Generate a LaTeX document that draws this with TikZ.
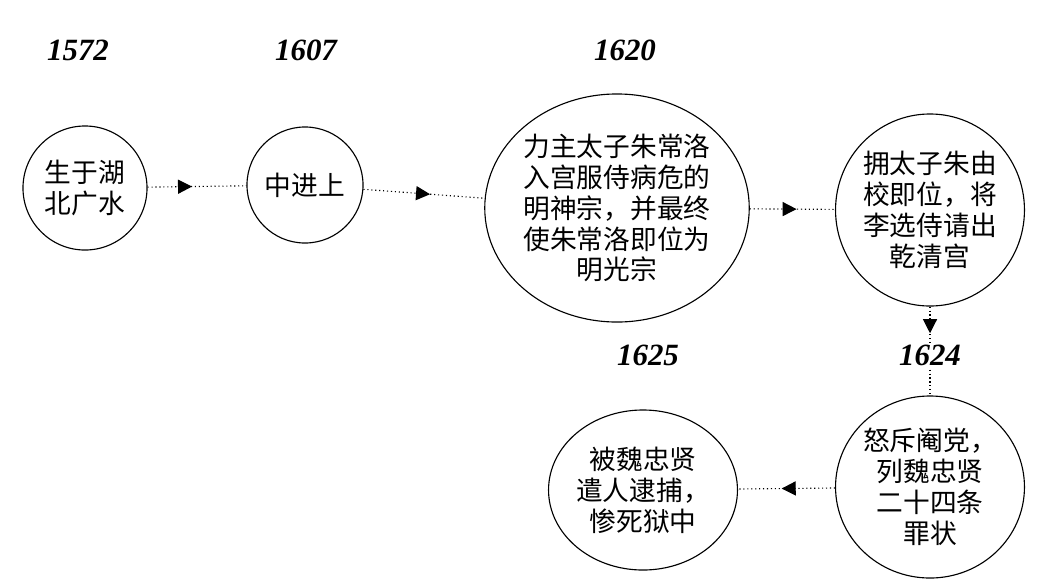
\documentclass[tikz,border=0pt]{standalone}
\usepackage{fontspec}
\setmainfont{Liberation Serif}
\newfontfamily\cjk{Noto Sans CJK SC}
\usetikzlibrary{arrows.meta,decorations.markings,shapes.geometric}

\tikzset{
	event/.style={draw,thick,ellipse,inner sep=0pt,align=center,font=\cjk\fontsize{19}{22}\selectfont},
	year/.style={font=\bfseries\itshape\fontsize{22}{24}\selectfont},
	flow/.style={dotted,thick,decoration={markings,mark=at position #1 with {\arrow{Triangle[length=10pt,width=10pt]}}},postaction={decorate}},
}

\begin{document}
\begin{tikzpicture}[x=0.025cm,y=-0.025cm]
	\useasboundingbox (0,0) rectangle (1038,580);
	
	\node[event,minimum width=3.1cm,minimum height=3.1cm] (born) at (85,188) {生于湖\\北广水};
	\node[event,minimum width=2.9cm,minimum height=2.9cm] (jinshi) at (305,185) {中进上};
	\node[event,minimum width=5.9cm,minimum height=5.7cm] (guang) at (617,208) {力主太子朱常洛\\入宫服侍病危的\\明神宗，并最终\\使朱常洛即位为\\明光宗};
	\node[event,minimum width=4.7cm,minimum height=4.8cm] (qian) at (930,210) {拥太子朱由\\校即位，将\\李选侍请出\\乾清宫};
	\node[event,minimum width=4.5cm,minimum height=4.55cm] (wei) at (930,487) {怒斥阉党，\\列魏忠贤\\二十四条\\罪状};
	\node[event,minimum width=4cm,minimum height=4cm] (jail) at (643,490) {被魏忠贤\\遣人逮捕，\\惨死狱中};
	
	\draw[flow=0.45] (born) -- (jinshi);
	\draw[flow=0.55] (jinshi) -- (guang);
	\draw[flow=0.55] (guang) -- (qian);
	\draw[flow=0.3] (qian) -- (wei);
	\draw[flow=0.55] (wei) -- (jail);
	
	\node[year] (y1572) at (78,50) {1572};
	\node[year] (y1607) at (306,50) {1607};
	\node[year] (y1620) at (625,50) {1620};
	\node[year,fill=white,inner sep=1pt] (y1624) at (930,355) {1624};
	\node[year] (y1625) at (648,355) {1625};
\end{tikzpicture}
\end{document}
